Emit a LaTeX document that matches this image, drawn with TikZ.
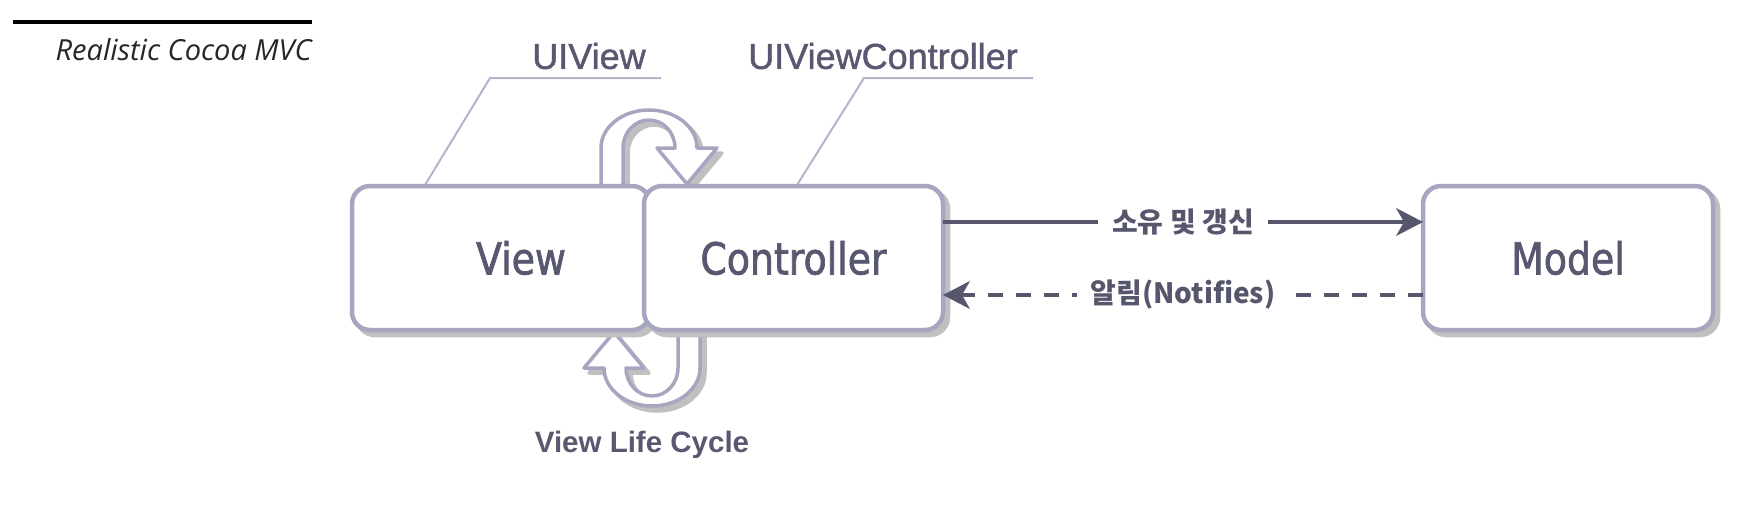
\documentclass[tikz,border=0pt]{standalone}
\usepackage{fontspec}
\setmainfont{Liberation Sans}
\newfontfamily\boxfont[FakeStretch=0.86,FakeBold=1.6]{DejaVu Sans}
\newfontfamily\lblfont[FakeBold=1.2]{Liberation Sans}
\newfontfamily\krfont{Noto Sans CJK KR}
\newfontfamily\titlefont{Open Sans}
\usetikzlibrary{arrows.meta}
\definecolor{boxline}{RGB}{166,166,192}
\definecolor{leader}{RGB}{180,180,204}
\definecolor{txt}{RGB}{88,88,112}
\definecolor{arr}{RGB}{86,86,108}
\definecolor{shade}{RGB}{192,192,192}
\newcommand\uturn[1]{\draw[#1] (601,186) -- (601,148)
  arc[start angle=180,end angle=360,x radius=48,y radius=38]
  -- (717,148) -- (687,184) -- (657,148) -- (675,148)
  arc[start angle=0,end angle=-180,x radius=26,y radius=28]
  -- (623,186) -- cycle;}
\begin{document}
\begin{tikzpicture}[x=1pt,y=-1pt,
  mvcbox/.style={draw=boxline, line width=4.5pt, fill=white, rounded corners=18pt,
    inner sep=0pt, outer sep=0pt, minimum height=144pt, text=txt,
    font=\boxfont\fontsize{44}{50}\selectfont,
    preaction={draw=shade, fill=shade, transform canvas={shift={(5pt,-5pt)}}}},
  loopstyle/.style={draw=boxline, line width=3.5pt, fill=white, line join=round},
  loopshadow/.style={draw=shade, line width=3.5pt, fill=shade, line join=round},
  leaderline/.style={draw=leader, line width=2pt},
  lbl/.style={text=txt, font=\lblfont\fontsize{36}{42}\selectfont, inner sep=0pt},
  arrowline/.style={draw=arr, line width=4pt},
  tip/.style={-{Stealth[length=27pt,width=28pt,inset=8pt,line width=1pt]}},
  krlabel/.style={fill=white, text=arr, font=\krfont\bfseries\fontsize{28}{32}\selectfont,
    inner xsep=14pt, inner ysep=3pt},
]
\useasboundingbox[fill=white] (0,0) rectangle (1748,512);

% title
\coordinate (t1) at (13,22);
\coordinate (t2) at (312,22);
\draw[line width=4pt, black] (t1) -- (t2);
\node[anchor=east, inner sep=0pt, text=black!85,
  font=\titlefont\itshape\fontsize{29}{34}\selectfont] (title) at (312,50) {Realistic Cocoa MVC};

% leader lines and labels
\coordinate (v1) at (425,185);
\coordinate (v2) at (490,78);
\coordinate (v3) at (661,78);
\draw[leaderline] (v1) -- (v2) -- (v3);
\coordinate (c1) at (797,185);
\coordinate (c2) at (864,78);
\coordinate (c3) at (1033,78);
\draw[leaderline] (c1) -- (c2) -- (c3);
\node[lbl] (uiview) at (589,56) {UIView};
\node[lbl] (uivc) at (883,56) {UIViewController};

% loops
\uturn{loopshadow, shift={(5,5)}}
\uturn{loopstyle}
\uturn{loopshadow, shift={(5,5)}, rotate around={180:(650.5,258)}}
\uturn{loopstyle, rotate around={180:(650.5,258)}}

% boxes
\node[mvcbox, minimum width=298pt] (view) at (501,258) {\hspace*{40pt}View};
\node[mvcbox, minimum width=299pt] (ctrl) at (793.5,258) {Controller};
\node[mvcbox, minimum width=290pt] (model) at (1568,258) {Model};

\node[anchor=base, text=txt, inner sep=0pt, font=\bfseries\fontsize{29.5}{34}\selectfont]
  (vlc) at (642,452) {View Life Cycle};

% arrows
\draw[arrowline, tip] ([yshift=36pt]ctrl.east) --
  node[krlabel] (own) {소유 및 갱신} ([yshift=36pt]model.west);
\draw[arrowline, tip, dash pattern=on 15pt off 13pt] ([yshift=-37pt]model.west) --
  node[krlabel] (notify) {알림(Notifies)} ([yshift=-37pt]ctrl.east);
\end{tikzpicture}
\end{document}
